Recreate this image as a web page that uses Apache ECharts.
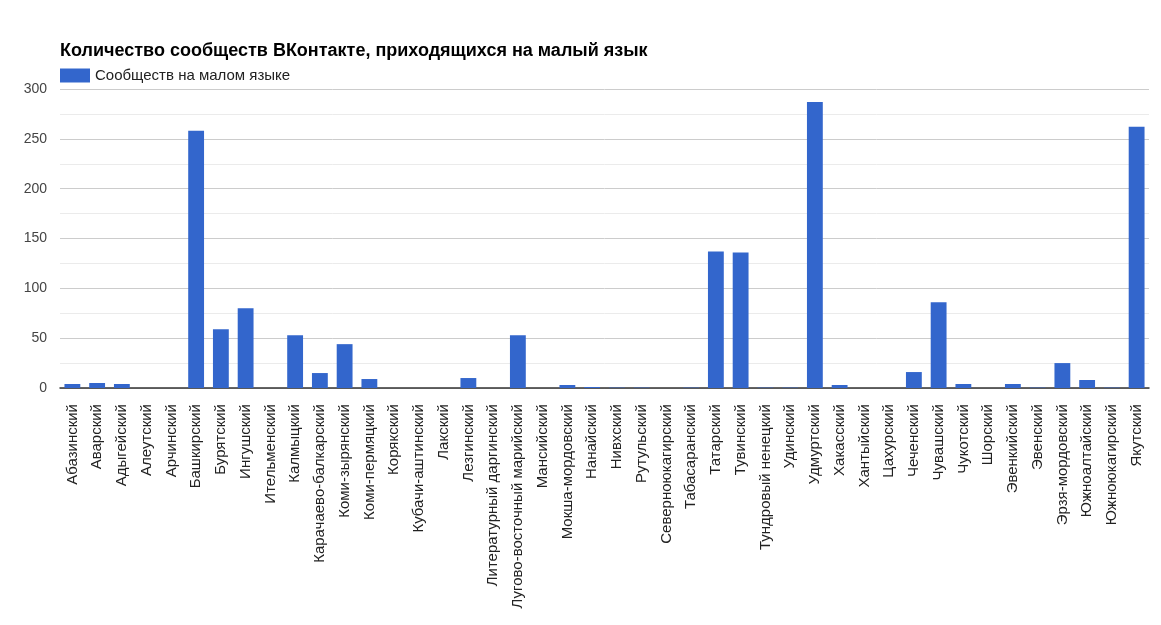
<!DOCTYPE html>
<html><head><meta charset="utf-8">
<script src="https://cdn.jsdelivr.net/npm/echarts@6/dist/echarts.min.js"></script>
<style>html,body{margin:0;padding:0;background:#fff}#c{width:1161px;height:625px}</style>
</head><body><div id="c"></div>
<script>
const categories = ["Абазинский","Аварский","Адыгейский","Алеутский","Арчинский","Башкирский","Бурятский","Ингушский","Ительменский","Калмыцкий","Карачаево-балкарский","Коми-зырянский","Коми-пермяцкий","Корякский","Кубачи-аштинский","Лакский","Лезгинский","Литературный даргинский","Лугово-восточный марийский","Мансийский","Мокша-мордовский","Нанайский","Нивхский","Рутульский","Северноюкагирский","Табасаранский","Татарский","Тувинский","Тундровый ненецкий","Удинский","Удмуртский","Хакасский","Хантыйский","Цахурский","Чеченский","Чувашский","Чукотский","Шорский","Эвенкийский","Эвенский","Эрзя-мордовский","Южноалтайский","Южноюкагирский","Якутский"];
const communities = [4,5,4,0,0,258,59,80,0,53,15,44,9,0,0,0,10,0,53,0,3,1,0.4,0.4,0,0.4,137,136,0.4,0.4,287,3,0,0,16,86,4,0,4,0.4,25,8,0.4,262];
const seriesName = "Сообществ на малом языке";
const titleText = "Количество сообществ ВКонтакте, приходящихся на малый язык";
const yTicks = {min:0, max:300, interval:50};

const chart = echarts.init(document.getElementById('c'));
chart.setOption({
  animation:false,
  textStyle:{fontFamily:'"Liberation Sans", Arial, sans-serif'},
  title:{text:titleText,left:55,top:37,textStyle:{fontSize:18,fontWeight:'bold',color:'#000',fontFamily:'"Liberation Sans", Arial, sans-serif'}},
  legend:{left:55,top:63,itemWidth:30,itemHeight:14,itemGap:6,icon:'rect',data:[seriesName],textStyle:{fontSize:15,color:'#222'}},
  grid:{left:60,right:12,top:89,bottom:237,containLabel:false},
  xAxis:{type:'category',data:categories,
    axisLine:{lineStyle:{color:'#333',width:1.5}},axisTick:{show:false},
    axisLabel:{rotate:90,interval:0,fontSize:15,color:'#222',margin:16}},
  yAxis:{type:'value',min:yTicks.min,max:yTicks.max,interval:yTicks.interval,
    axisLine:{show:false},axisTick:{show:false},
    axisLabel:{fontSize:14,color:'#444',margin:13},
    splitLine:{lineStyle:{color:'#cccccc'}},
    minorTick:{show:false,splitNumber:2},
    minorSplitLine:{show:true,lineStyle:{color:'#ebebeb'}}},
  series:[{name:seriesName,type:'bar',data:communities,barCategoryGap:'36%',itemStyle:{color:'#3366cc'}}]
});
</script></body></html>
